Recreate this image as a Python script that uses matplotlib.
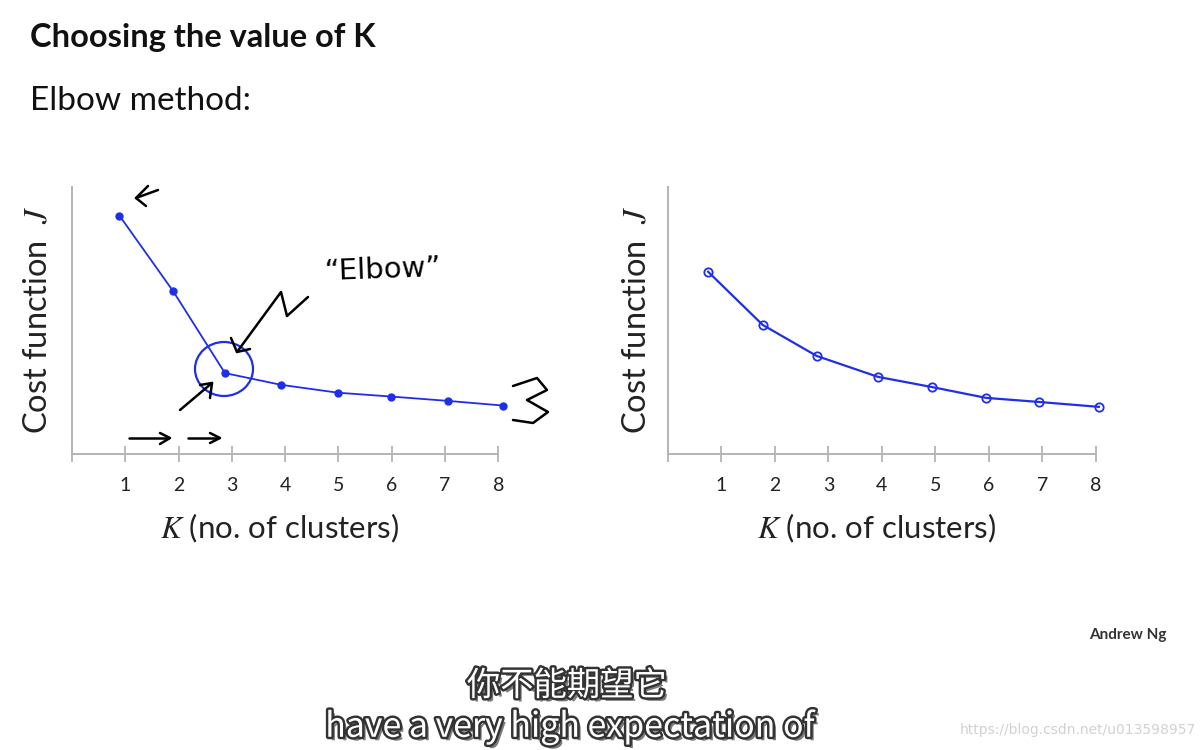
import matplotlib
matplotlib.use("Agg")
import matplotlib.pyplot as plt
import matplotlib.transforms as mtransforms
import matplotlib.patheffects as pe
from matplotlib.patches import Ellipse

plt.rcParams['mathtext.fontset'] = 'stix'

# ---- data ----
k_left = [0.89, 1.90, 2.87, 3.92, 4.99, 5.98, 7.05, 8.08]
cost_left = [8.75, 5.97, 2.97, 2.54, 2.25, 2.11, 1.95, 1.78]
k_right = [0.75, 1.77, 2.78, 3.93, 4.93, 5.95, 6.94, 8.06]
cost_right = [6.69, 4.74, 3.60, 2.83, 2.46, 2.06, 1.91, 1.73]
tick_positions = [0, 1, 2, 3, 4, 5, 6, 7, 8]
tick_labels = ["", "1", "2", "3", "4", "5", "6", "7", "8"]

title = "Choosing the value of K"
subtitle = "Elbow method:"
ylabel = "Cost function  $J$"
xlabel = "$K$ (no. of clusters)"
sub_zh = "你不能期望它"
sub_en = "have a very high expectation of"
author = "Andrew Ng"
watermark = "https://blog.csdn.net/u013598957"

W, H = 1202, 750
fig = plt.figure(figsize=(W / 100, H / 100), dpi=100)
fig.patch.set_facecolor("white")
PX = mtransforms.Affine2D().scale(1 / W, -1 / H).translate(0, 1) + fig.transFigure

FONT = "Lato"
BLUE = "#1f2fe8"
GRAY = "#b4b4b4"


def make_axes(left_px, right_px, top_px, bottom_px, xmin):
    ax = fig.add_axes([left_px / W, 1 - bottom_px / H,
                       (right_px - left_px) / W, (bottom_px - top_px) / H])
    ax.set_xlim(xmin, 8.0)
    ax.set_ylim(0, 9.8)
    for s in ("top", "right"):
        ax.spines[s].set_visible(False)
    for s in ("left", "bottom"):
        ax.spines[s].set_color(GRAY)
        ax.spines[s].set_linewidth(1.4)
    ax.set_yticks([])
    ax.set_xticks(tick_positions)
    ax.set_xticklabels(tick_labels, fontfamily=FONT, fontsize=14, color="#222222")
    ax.tick_params(axis="x", direction="inout", length=11, width=1.3,
                   color=GRAY, pad=11)
    ax.patch.set_alpha(0)
    return ax


axL = make_axes(72, 498.3, 187, 454, 0.04)
axR = make_axes(668, 1095.7, 187, 454, 0.0)

axL.plot(k_left, cost_left, color=BLUE, lw=1.3, marker="o", ms=5,
         clip_on=False)
axR.plot(k_right, cost_right, color=BLUE, lw=1.6, marker="o", ms=6,
         mfc="none", mew=1.3, clip_on=False)

# axis labels
for xc, yc in ((38, 320), (636, 320)):
    fig.text(xc, yc, ylabel, transform=PX, rotation=90, ha="center",
             va="center", fontsize=23.5, fontfamily=FONT, color="#222222")
for xc in (280, 877):
    fig.text(xc, 528, xlabel, transform=PX, ha="center", va="center",
             fontsize=22.5, fontfamily=FONT, color="#222222")

# slide texts
fig.text(30, 37, title, transform=PX, ha="left", va="center",
         fontsize=23.5, fontweight="bold", fontfamily=FONT, color="#111111")
fig.text(30, 101, subtitle, transform=PX, ha="left", va="center",
         fontsize=24, fontfamily=FONT, color="#111111")
fig.text(1128, 635, author, transform=PX, ha="center", va="center",
         fontsize=11, fontweight="bold", fontfamily=FONT, color="#333333")

# hand-drawn annotations (left chart)
ink = dict(color="black", lw=1.8, transform=PX, solid_capstyle="round",
           solid_joinstyle="round")
fig.add_artist(plt.Line2D([158, 136], [190, 198], **ink))
fig.add_artist(plt.Line2D([148, 136, 146], [186, 198, 206], **ink))
fig.add_artist(plt.Line2D([308, 287, 281, 237], [297, 316, 292, 352], **ink))
fig.add_artist(plt.Line2D([231, 237, 250], [338, 352, 349], **ink))
fig.add_artist(plt.Line2D([180, 212], [410, 383], **ink))
fig.add_artist(plt.Line2D([200, 212, 210], [385, 383, 398], **ink))
fig.add_artist(plt.Line2D([129, 168], [438, 438], **ink))
fig.add_artist(plt.Line2D([160, 170, 160], [433, 438, 444], **ink))
fig.add_artist(plt.Line2D([188, 218], [438, 438], **ink))
fig.add_artist(plt.Line2D([210, 220, 210], [433, 438, 443], **ink))
fig.add_artist(plt.Line2D([513, 537, 547, 527, 548, 533, 513],
                          [386, 378, 390, 400, 412, 423, 420], **ink))
fig.text(383, 270, "\u201cElbow\u201d", transform=PX, ha="center",
         va="center", fontsize=21, fontfamily="DejaVu Sans",
         color="black", rotation=2)
circ = Ellipse((224, 369), 58, 54, fill=False, ec=BLUE, lw=1.6)
circ.set_transform(mtransforms.Affine2D().scale(1, -1).translate(0, H)
                   + mtransforms.Affine2D().scale(1 / W, 1 / H) + fig.transFigure)
fig.add_artist(circ)

# subtitles
fx_sub = [pe.withSimplePatchShadow(offset=(2.5, -2.5), shadow_rgbFace="#444444", alpha=0.7),
          pe.Stroke(linewidth=3.5, foreground="#333333"), pe.Normal()]
fig.text(567, 686, sub_zh, transform=PX, ha="center", va="center",
         fontsize=24, fontfamily=["Noto Sans CJK SC", "DejaVu Sans"],
         color="white", path_effects=fx_sub)
fig.text(570, 727, sub_en, transform=PX, ha="center", va="center",
         fontsize=24.4, fontfamily=["Noto Sans CJK SC", "DejaVu Sans"],
         color="white", path_effects=fx_sub)
fig.text(1196, 730, watermark, transform=PX, ha="right", va="center",
         fontsize=10, fontfamily="DejaVu Sans", color="#d2d2d2")

fig.savefig("out.png", dpi=100)
